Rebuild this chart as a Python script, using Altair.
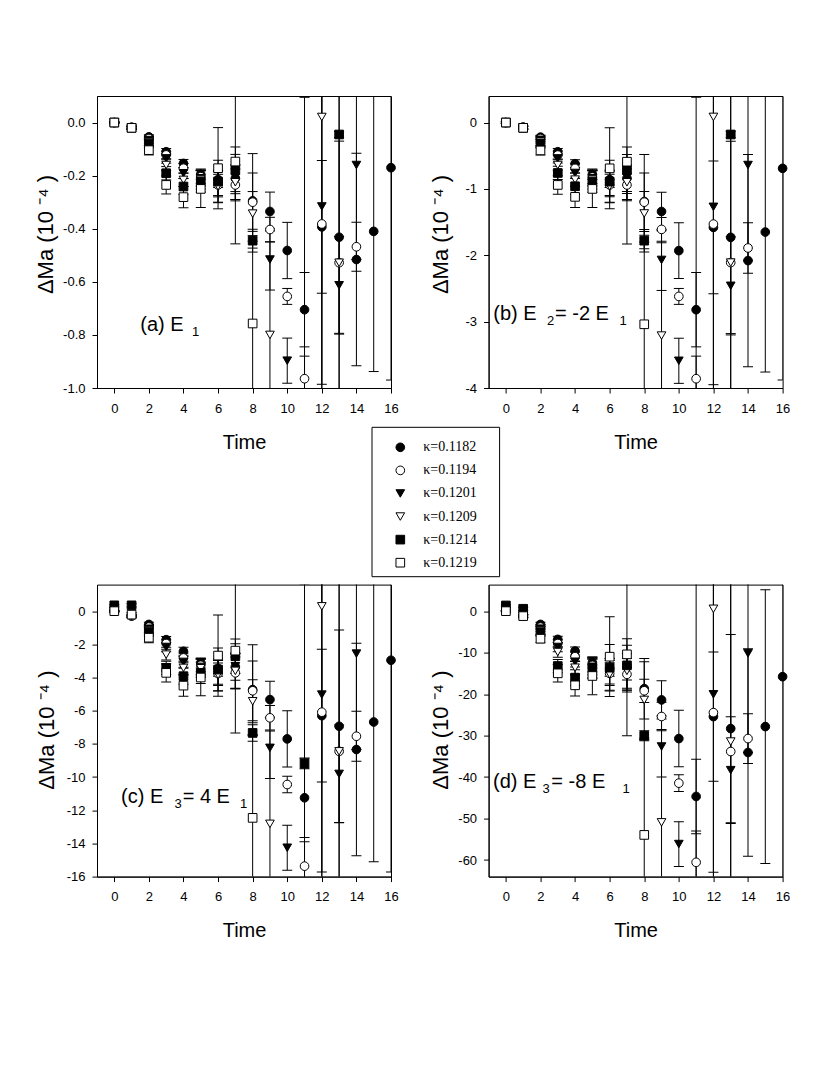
import altair as alt
import pandas as pd

TIME = list(range(17))
X_TICKS = [0, 2, 4, 6, 8, 10, 12, 14, 16]
KAPPA = ["κ=0.1182", "κ=0.1194", "κ=0.1201", "κ=0.1209", "κ=0.1214", "κ=0.1219"]
SHAPE = ["circle", "circle", "triangle-down", "triangle-down", "square", "square"]
FILL = ["black", "white", "black", "white", "black", "white"]
SIZE = [75, 75, 64, 64, 56, 56]

# ---- panel (a): E1, units 1e-4 ----
A_1182 = [0.0, -0.018, -0.054, -0.110, -0.154, -0.195, -0.215, -0.210, -0.295, -0.335, -0.482, -0.705, -0.393, -0.432, -0.516, -0.410, -0.170]
A_1182_E = [0.002, 0.004, 0.008, 0.012, 0.015, 0.020, 0.030, 0.050, 0.178, 0.073, 0.106, 0.140, 0.250, 0.362, 0.400, 0.528, 0.800]
A_1194 = [0.0, -0.018, -0.060, -0.122, -0.172, -0.204, -0.235, -0.235, -0.300, -0.403, -0.655, -0.965, -0.382, -0.528, -0.468]
A_1194_E = [0.002, 0.004, 0.010, 0.014, 0.018, 0.025, 0.040, 0.060, 0.110, 0.046, 0.030, 1.060, 1.200, 0.800, 0.092]
A_1201 = [0.0, -0.019, -0.066, -0.135, -0.191, -0.210, -0.230, -0.205, None, -0.516, -0.897, -1.300, -0.316, -0.613, -0.160]
A_1201_E = [0.002, 0.005, 0.012, 0.018, 0.020, 0.030, 0.050, 0.085, None, 0.115, 0.085, 0.420, 0.670, 0.184, 0.356]
A_1209 = [0.0, -0.020, -0.073, -0.160, -0.216, -0.215, -0.240, -0.225, -0.343, -0.800, None, None, 0.021, -0.528]
A_1209_E = [0.002, 0.005, 0.014, 0.020, 0.025, 0.035, 0.060, 0.065, 0.083, 0.350, None, None, 1.500, 0.700]
A_1214 = [0.0, -0.020, -0.079, -0.191, -0.241, -0.222, -0.222, -0.180, -0.445, None, None, None, None, -0.045]
A_1214_E = [0.003, 0.006, 0.015, 0.025, 0.030, 0.040, 0.080, 0.088, 0.043, None, None, None, None, 0.012]
A_1219 = [0.0, -0.020, -0.104, -0.235, -0.281, -0.250, -0.172, -0.147, -0.757]
A_1219_E = [0.003, 0.006, 0.018, 0.034, 0.040, 0.070, 0.153, 0.310, 0.310]

# ---- panel (b): E2 = -2 E1 ----
B_1182 = [0.0, -0.07, -0.22, -0.44, -0.62, -0.78, -0.86, -0.84, -1.19, -1.34, -1.93, -2.82, -1.58, -1.73, -2.08, -1.65, -0.69]
B_1182_E = [0.01, 0.02, 0.03, 0.05, 0.06, 0.08, 0.12, 0.20, 0.71, 0.29, 0.42, 0.56, 1.00, 1.45, 1.60, 2.11, 3.19]
B_1194 = [0.0, -0.07, -0.24, -0.49, -0.69, -0.82, -0.94, -0.94, -1.20, -1.61, -2.62, -3.86, -1.53, -2.11, -1.89]
B_1194_E = [0.01, 0.02, 0.04, 0.06, 0.07, 0.10, 0.16, 0.24, 0.44, 0.18, 0.12, 4.24, 4.80, 3.20, 0.38]
B_1201 = [0.0, -0.08, -0.26, -0.54, -0.76, -0.84, -0.92, -0.82, None, -2.07, -3.59, -5.20, -1.27, -2.46, -0.64]
B_1201_E = [0.01, 0.02, 0.05, 0.07, 0.08, 0.12, 0.20, 0.34, None, 0.46, 0.34, 1.68, 2.68, 0.74, 1.44]
B_1209 = [0.0, -0.08, -0.29, -0.64, -0.86, -0.86, -0.96, -0.90, -1.37, -3.21, None, None, 0.085, -2.11]
B_1209_E = [0.01, 0.02, 0.06, 0.08, 0.10, 0.14, 0.24, 0.26, 0.33, 1.40, None, None, 6.00, 2.80]
B_1214 = [0.0, -0.08, -0.32, -0.76, -0.96, -0.89, -0.89, -0.72, -1.78, None, None, None, None, -0.18]
B_1214_E = [0.012, 0.024, 0.06, 0.10, 0.12, 0.16, 0.32, 0.35, 0.17, None, None, None, None, 0.05]
B_1219 = [0.0, -0.08, -0.42, -0.94, -1.12, -1.00, -0.69, -0.59, -3.04]
B_1219_E = [0.012, 0.024, 0.07, 0.14, 0.16, 0.28, 0.61, 1.24, 1.24]

# ---- panel (c): E3 = 4 E1 ----
C_1182 = [0.0, -0.29, -0.80, -1.72, -2.42, -3.12, -3.45, -3.36, -4.73, -5.33, -7.70, -11.25, -6.30, -6.94, -8.34, -6.68, -2.96]
C_1182_E = [0.03, 0.06, 0.13, 0.19, 0.24, 0.30, 0.48, 0.80, 2.70, 1.10, 1.70, 2.40, 4.00, 5.80, 6.40, 8.43, 12.77]
C_1194 = [0.0, -0.29, -0.96, -1.95, -2.82, -3.26, -3.76, -3.72, -4.80, -6.43, -10.45, -15.37, -6.09, -8.45, -7.54]
C_1194_E = [0.03, 0.06, 0.16, 0.22, 0.29, 0.40, 0.64, 0.96, 1.80, 0.74, 0.50, 17.0, 19.0, 13.0, 1.50]
C_1201 = [0.0, -0.30, -1.06, -2.16, -3.06, -3.36, -3.68, -3.32, None, -8.24, -14.26, -20.80, -5.03, -9.81, -2.56]
C_1201_E = [0.03, 0.08, 0.19, 0.29, 0.32, 0.48, 0.80, 1.36, None, 1.84, 1.36, 6.90, 10.70, 2.95, 5.78]
C_1209 = [0.0, -0.32, -1.17, -2.62, -3.42, -3.44, -3.84, -3.60, -5.43, -12.82, None, None, 0.29, -8.45]
C_1209_E = [0.03, 0.08, 0.22, 0.32, 0.40, 0.56, 0.96, 1.04, 1.30, 5.60, None, None, 24.0, 11.2]
C_1214 = [0.35, 0.35, -1.26, -3.42, -3.92, -3.72, -3.52, -2.72, -7.34, None, None, -9.20]
C_1214_E = [0.05, 0.10, 0.24, 0.40, 0.48, 0.64, 1.30, 1.04, 0.50, None, None, 0.30]
C_1219 = [0.0, -0.21, -1.60, -3.72, -4.49, -4.00, -2.68, -2.38, -12.46]
C_1219_E = [0.05, 0.10, 0.30, 0.55, 0.64, 1.10, 2.45, 4.96, 4.96]

# ---- panel (d): E3 = -8 E1 ----
D_1182 = [0.0, -1.15, -3.20, -6.81, -9.62, -12.43, -13.80, -13.40, -18.69, -21.40, -30.72, -44.68, -25.43, -28.31, -34.08, -27.83, -15.80]
D_1182_E = [0.13, 0.26, 0.50, 0.77, 0.96, 1.30, 1.90, 3.20, 7.30, 4.60, 6.80, 9.00, 15.6, 22.7, 25.0, 33.0, 51.0]
D_1194 = [0.0, -1.15, -3.84, -7.80, -10.98, -13.07, -15.00, -15.23, -19.20, -25.40, -41.47, -60.56, -24.46, -33.84, -30.72]
D_1194_E = [0.13, 0.26, 0.64, 0.90, 1.15, 1.60, 2.56, 3.84, 2.80, 3.46, 2.00, 68.0, 76.0, 51.0, 6.00]
D_1201 = [0.0, -1.20, -4.22, -8.64, -12.20, -13.44, -14.70, -13.63, None, -32.63, -56.15, -83.0, -20.05, -38.33, -10.18]
D_1201_E = [0.13, 0.32, 0.77, 1.15, 1.28, 1.92, 3.20, 5.40, None, 7.36, 5.40, 30.0, 42.9, 12.84, 23.9]
D_1209 = [0.0, -1.28, -4.67, -9.86, -13.63, -13.80, -15.23, -14.40, -21.40, -50.92, None, None, 0.57, -31.44]
D_1209_E = [0.13, 0.32, 0.90, 1.28, 1.60, 2.24, 3.84, 4.16, 9.20, 22.4, None, None, 96.0, 45.0]
D_1214 = [1.37, 0.57, -5.06, -13.23, -16.03, -13.63, -13.63, -13.07, -30.04]
D_1214_E = [0.20, 0.38, 0.96, 1.60, 1.92, 2.56, 5.60, 6.40, 1.20]
D_1219 = [0.0, -1.20, -6.64, -14.99, -17.88, -15.63, -10.98, -10.42, -53.95]
D_1219_E = [0.20, 0.38, 0.96, 2.10, 2.57, 4.50, 9.60, 19.6, 23.0]

A_TICKS = [0.0, -0.2, -0.4, -0.6, -0.8, -1.0]
B_TICKS = [0, -1, -2, -3, -4]
C_TICKS = [0, -2, -4, -6, -8, -10, -12, -14, -16]
D_TICKS = [0, -10, -20, -30, -40, -50, -60]

Y_TITLE = "\u0394Ma  (10 \u207b\u2074 )"
FONT = "Liberation Sans"
W, H = 294, 292

PANELS = [
    dict(series=[(A_1182, A_1182_E), (A_1194, A_1194_E), (A_1201, A_1201_E),
                 (A_1209, A_1209_E), (A_1214, A_1214_E), (A_1219, A_1219_E)],
         domain=[-1.0, 0.1], ticks=A_TICKS, fmt=".1f", titleX=-45, titleY=138,
         texts=[("(a) E", 43.3, 235, 20), ("1", 95, 240, 13)]),
    dict(series=[(B_1182, B_1182_E), (B_1194, B_1194_E), (B_1201, B_1201_E),
                 (B_1209, B_1209_E), (B_1214, B_1214_E), (B_1219, B_1219_E)],
         domain=[-4.0, 0.4], ticks=B_TICKS, fmt="d", titleX=-41, titleY=138,
         texts=[("(b) E", 4.7, 224, 20), ("2", 58.5, 229, 13), ("= -2 E", 66.4, 224, 20), ("1", 131, 229, 13)]),
    dict(series=[(C_1182, C_1182_E), (C_1194, C_1194_E), (C_1201, C_1201_E),
                 (C_1209, C_1209_E), (C_1214, C_1214_E), (C_1219, C_1219_E)],
         domain=[-16.0, 1.6], ticks=C_TICKS, fmt="d", titleX=-44, titleY=145,
         texts=[("(c) E", 24, 218, 20), ("3", 77.5, 223, 13), ("= 4 E", 85.7, 218, 20), ("1", 143, 223, 13)]),
    dict(series=[(D_1182, D_1182_E), (D_1194, D_1194_E), (D_1201, D_1201_E),
                 (D_1209, D_1209_E), (D_1214, D_1214_E), (D_1219, D_1219_E)],
         domain=[-64.0, 6.4], ticks=D_TICKS, fmt="d", titleX=-41, titleY=145,
         texts=[("(d) E", 4.4, 203, 20), ("3", 54, 208, 13), ("= -8 E", 62.7, 203, 20), ("1", 134, 208, 13)]),
]


def build(series):
    rows = []
    for k, (vals, errs) in zip(KAPPA, series):
        for t, v, e in zip(TIME, vals, errs):
            if v is None:
                continue
            rows.append({"k": k, "t": t, "v": v, "e": e})
    return pd.DataFrame(rows)


ONE = pd.DataFrame({"d": [0]})
LEG = pd.DataFrame({"k": KAPPA})

SHAPE_SCALE = alt.Scale(domain=KAPPA, range=SHAPE)
FILL_SCALE = alt.Scale(domain=KAPPA, range=FILL)
SIZE_SCALE = alt.Scale(domain=KAPPA, range=SIZE)


def marker_enc():
    return dict(shape=alt.Shape("k:N", scale=SHAPE_SCALE, legend=None),
                fill=alt.Fill("k:N", scale=FILL_SCALE, legend=None),
                size=alt.Size("k:N", scale=SIZE_SCALE, legend=None))


def make_panel(p, with_legend):
    df = build(p["series"])
    lo, hi = p["domain"]
    xs = alt.Scale(domain=[-1, 16], nice=False, zero=False)
    xa = alt.Axis(values=X_TICKS, title="Time", titleY=60, titleBaseline="alphabetic",
                  titleFontSize=20, labelPadding=9, labelFlush=False, labelOverlap=False, grid=False)
    ys = alt.Scale(domain=[lo, hi], nice=False, zero=False)
    ya = alt.Axis(values=p["ticks"], format=p["fmt"], labelExpr="replace(datum.label, '\u2212', '-')",
                  title=Y_TITLE, titleX=p["titleX"], titleY=p["titleY"], titleAngle=-90,
                  titleAlign="center", titleBaseline="alphabetic", titleFontSize=22,
                  labelPadding=7, labelFlush=False, labelOverlap=False, grid=False)
    X = lambda f: alt.X(f, type="quantitative", scale=xs, axis=xa)
    Y = lambda f: alt.Y(f, type="quantitative", scale=ys, axis=ya)

    bars = alt.Chart(df).transform_calculate(lo="datum.v - datum.e", hi="datum.v + datum.e")
    rule = bars.mark_rule(clip=True, color="black", strokeWidth=1).encode(x=X("t"), y=Y("lo"), y2="hi:Q")
    cap_lo = bars.mark_tick(clip=True, orient="horizontal", size=10, thickness=1, color="black",
                            opacity=1).encode(x=X("t"), y=Y("lo"))
    cap_hi = bars.mark_tick(clip=True, orient="horizontal", size=10, thickness=1, color="black",
                            opacity=1).encode(x=X("t"), y=Y("hi"))
    pts = (alt.Chart(df)
           .transform_filter(f"datum.v >= {lo} && datum.v <= {hi}")
           .mark_point(filled=True, stroke="black", strokeWidth=1, opacity=1)
           .encode(x=X("t"), y=Y("v"), **marker_enc()))

    layers = [rule, cap_lo, cap_hi, pts]
    for s, tx, ty, fs in p["texts"]:
        layers.append(alt.Chart(ONE).mark_text(align="left", baseline="alphabetic", font=FONT,
                                               fontSize=fs, color="black")
                      .encode(x=alt.value(tx), y=alt.value(ty), text=alt.value(s)))
    main = alt.layer(*layers)
    if not with_legend:
        return main.properties(width=W, height=H)

    # legend box placed below panel (a), in the gap between the rows
    ly = alt.Y("k:N", scale=alt.Scale(domain=KAPPA, range=[351.3, 466.7], padding=0), axis=None)
    box = alt.Chart(ONE).mark_rect(fill="white", stroke="black", strokeWidth=1).encode(
        x=alt.value(275), x2=alt.value(402.6), y=alt.value(331.3), y2=alt.value(480.7))
    leg_pts = alt.Chart(LEG).mark_point(filled=True, stroke="black", strokeWidth=1, opacity=1).encode(
        x=alt.value(303.3), y=ly, **marker_enc())
    leg_txt = alt.Chart(LEG).mark_text(align="left", baseline="middle", font="Liberation Serif",
                                       fontSize=14, color="black").encode(
        x=alt.value(326.3), y=ly, text="k:N")
    legend = alt.layer(box, leg_pts, leg_txt)
    return alt.layer(main, legend).resolve_scale(y="independent").properties(width=W, height=H)


charts = [make_panel(p, i == 0) for i, p in enumerate(PANELS)]

chart = (alt.concat(*charts, columns=2, spacing={"row": 196.6, "column": 97.6}, bounds="flush")
         .properties(padding={"left": 25, "top": 87, "right": 10, "bottom": 10})
         .configure_view(stroke="black", strokeWidth=1)
         .configure_axis(domainColor="black", tickColor="black", labelColor="black", titleColor="black",
                         labelFont=FONT, labelFontSize=13, titleFont=FONT, titleFontWeight="normal",
                         tickSize=5, domainWidth=1, tickWidth=1))

chart.save("out.html", embed_options={"renderer": "svg", "actions": False})
